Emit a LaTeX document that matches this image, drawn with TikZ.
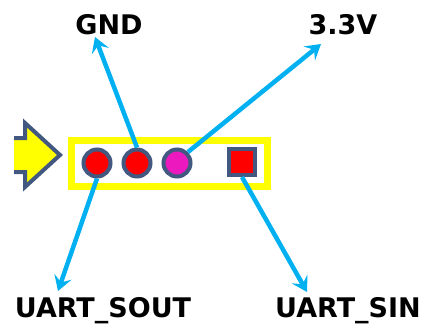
\documentclass[tikz,border=0pt]{standalone}
\usepackage{fontspec}
\setmainfont{DejaVu Sans}
\usetikzlibrary{arrows.meta}
\definecolor{pinyel}{RGB}{255,255,0}
\definecolor{pinred}{RGB}{255,0,0}
\definecolor{pinmag}{RGB}{236,26,190}
\definecolor{edgeblue}{RGB}{66,88,128}
\definecolor{arrcyan}{RGB}{0,176,240}
\tikzset{
  pin/.style={circle, draw=edgeblue, line width=4pt, minimum size=27pt, inner sep=0pt},
  sqpin/.style={rectangle, draw=edgeblue, line width=4pt, minimum size=26pt, inner sep=0pt, fill=pinred},
  lbl/.style={font=\fontsize{27}{32}\selectfont\bfseries, text=black, inner sep=0pt},
  link/.style={draw=arrcyan, line width=4.5pt, -{Stealth[length=15pt,width=18pt,inset=6pt]}},
}
\begin{document}
\begin{tikzpicture}[x=1pt,y=-1pt]
\useasboundingbox (0,0) rectangle (425,329);
% header box
\draw[pinyel, line width=7pt] (71.5,140.5) rectangle (267.5,186.5);
% left arrow
\fill[pinyel] (14,138) -- (25,138) -- (25,123) -- (60,155) -- (25,187) -- (25,172) -- (14,172) -- cycle;
\draw[edgeblue, line width=4pt, line join=miter] (14,138) -- (25,138) -- (25,123) -- (60,155) -- (25,187) -- (25,172) -- (14,172);
% pins
\node[pin, fill=pinred] (p1) at (97,163) {};
\node[pin, fill=pinred] (p2) at (137,163) {};
\node[pin, fill=pinmag] (p3) at (177,163) {};
\node[sqpin] (p4) at (242,162) {};
% labels
\node[lbl] (gnd) at (109,25) {GND};
\node[lbl] (v33) at (343,25) {3.3V};
\node[lbl] (sout) at (103,311) {UART\_SOUT};
\node[lbl] (sin) at (348,311) {UART\_SIN};
% arrow tips
\coordinate (tgnd) at (95,37);
\coordinate (tv33) at (321,44);
\coordinate (tsout) at (58,291);
\coordinate (tsin) at (307,292);
\draw[link] (p2.north) -- (tgnd);
\draw[link] (p3.north east) -- (tv33);
\draw[link] (p1.south) -- (tsout);
\draw[link] (p4.south) -- (tsin);
\end{tikzpicture}
\end{document}
